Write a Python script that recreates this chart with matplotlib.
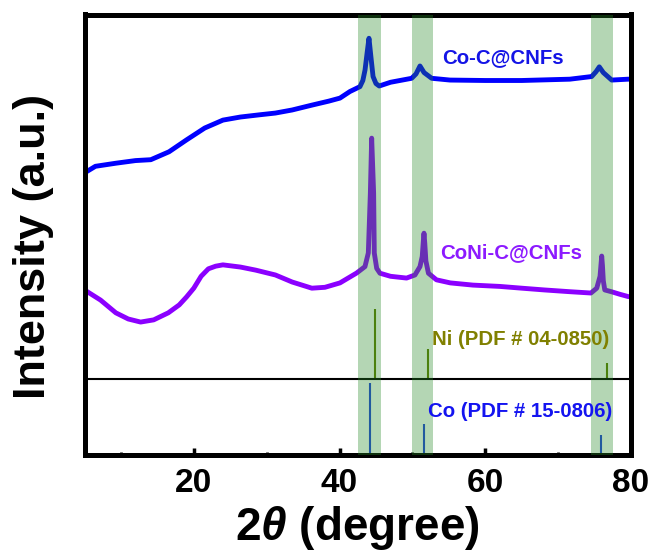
import matplotlib
matplotlib.use("Agg")
import matplotlib.pyplot as plt

plt.rcParams['font.family'] = ['Liberation Sans', 'DejaVu Sans']
plt.rcParams['font.weight'] = 'bold'
plt.rcParams['mathtext.fontset'] = 'custom'
plt.rcParams['mathtext.bfit'] = 'Liberation Sans:bold:italic'
plt.rcParams['mathtext.it'] = 'Liberation Sans:bold:italic'
plt.rcParams['mathtext.rm'] = 'Liberation Sans:bold'

# ---- data (intensity in arbitrary offset units) ----
co_x = [5.0, 6.5, 9.3, 12.0, 14.1, 16.6, 19.0, 21.5, 24.0, 26.4, 29.0, 31.2, 33.5,
        36.2, 38.5, 40.06, 41.43, 42.8, 43.2, 43.5, 43.8, 44.04, 44.3, 44.6, 45.0,
        45.45, 47.0, 49.9, 50.5, 51.04, 51.6, 52.65, 55.16, 60.0, 65.0, 71.6,
        74.6, 75.2, 75.65, 76.2, 77.35, 79.6, 80.0]
co_y = [64.0, 65.5, 66.2, 66.8, 67.0, 68.8, 71.5, 74.2, 76.0, 76.7, 77.2, 77.6, 78.3,
        79.4, 80.3, 81.0, 82.5, 83.6, 85.0, 87.4, 91.5, 94.6, 90.5, 85.9, 84.3,
        83.75, 84.6, 85.5, 86.5, 88.3, 86.8, 85.5, 85.1, 85.0, 85.0, 85.3,
        85.9, 87.0, 88.1, 86.8, 85.1, 85.3, 85.3]

coni_x = [5.0, 7.2, 9.3, 11.0, 12.7, 14.5, 16.5, 18.0, 19.0, 20.0, 21.0, 22.0, 23.0,
          24.0, 26.4, 28.5, 31.2, 33.5, 36.2, 38.0, 40.06, 42.35, 43.49, 43.95,
          44.23, 44.41, 44.68, 44.77, 45.1, 45.55, 47.0, 49.2, 50.35, 51.04, 51.35,
          51.5, 51.59, 51.7, 51.85, 52.2, 53.3, 55.2, 58.3, 62.0, 65.0, 68.1, 71.6,
          74.5, 75.3, 75.75, 75.9, 75.98, 76.08, 76.2, 76.4, 77.3, 78.5, 79.6, 80.0]
coni_y = [37.4, 35.1, 32.2, 30.8, 30.1, 30.6, 32.2, 34.0, 35.8, 37.8, 40.5, 42.2, 42.8,
          43.1, 42.6, 41.9, 40.8, 39.2, 37.8, 38.0, 39.0, 41.25, 42.7, 45.8,
          59.4, 71.9, 59.4, 45.8, 42.3, 41.2, 40.5, 40.1, 40.8, 42.7, 45.0,
          48.5, 50.3, 48.0, 44.0, 41.2, 39.7, 39.0, 38.5, 38.2, 37.8, 37.4, 37.0,
          36.7, 37.8, 40.5, 43.5, 45.1, 43.0, 39.5, 37.4, 37.0, 36.4, 35.9, 35.8]

ni_ref_x = [44.82, 52.1, 76.7]
ni_ref_top = [33.07, 24.0, 20.8]
co_ref_x = [44.22, 51.63, 75.84]
co_ref_top = [16.3, 6.9, 4.4]
separator_y = 17.1

bands = [(42.57, 45.69), (49.9, 52.78), (74.5, 77.5)]

labels = ["Co-C@CNFs", "CoNi-C@CNFs", "Ni (PDF # 04-0850)", "Co (PDF # 15-0806)"]
label_pos = [(54.06, 89.0), (53.8, 44.66), (52.69, 24.9), (52.14, 8.52)]
label_col = ['#1414e6', '#8c1aff', '#808000', '#1414f0']

xticks_major = [20, 40, 60, 80]
xticks_minor = [10, 30, 50, 70]

# ---- figure ----
fig = plt.figure(figsize=(6.54, 5.51), dpi=100)
ax = fig.add_axes([84.5/654, (551-454.5)/551, (631-84.5)/654, 440/551])

ax.plot(co_x, co_y, color='#0000ff', lw=3.5, zorder=2, solid_joinstyle='round')
ax.plot(coni_x, coni_y, color='#8b00ff', lw=3.5, zorder=2, solid_joinstyle='round')

ax.vlines(ni_ref_x, separator_y, ni_ref_top, color='#5f7a00', lw=1.5, zorder=2)
ax.vlines(co_ref_x, 0, co_ref_top, color='#1f3fe0', lw=1.5, zorder=2)
ax.axhline(separator_y, color='black', lw=1.5, zorder=2)

for a, b in bands:
    ax.axvspan(a, b, color=(40/255, 140/255, 40/255), alpha=0.35, lw=0, zorder=3)

for t, (x, y), c in zip(labels, label_pos, label_col):
    ax.text(x, y, t, color=c, fontsize=14.7, fontweight='bold',
            ha='left', va='baseline', zorder=4)

ax.set_xlim(5, 80)
ax.set_ylim(0, 100)
ax.set_xticks(xticks_major)
ax.set_xticks(xticks_minor, minor=True)
ax.set_yticks([])
ax.tick_params(axis='x', which='major', direction='in', length=5, width=2.5,
               labelsize=24, pad=10)
ax.tick_params(axis='x', which='minor', direction='in', length=2.5, width=2)
for lab in ax.get_xticklabels():
    lab.set_fontweight('bold')
for s in ax.spines.values():
    s.set_linewidth(3.6)

ax.set_xlabel(r'2$\mathbfit{\theta}$ (degree)', fontsize=33, fontweight='bold', labelpad=3)
ax.set_ylabel('Intensity (a.u.)', fontsize=32.5, fontweight='bold')
ax.yaxis.set_label_coords(-0.093, 0.472)
ax.yaxis.label.set_va('center')

fig.savefig('out.png', dpi=100)
